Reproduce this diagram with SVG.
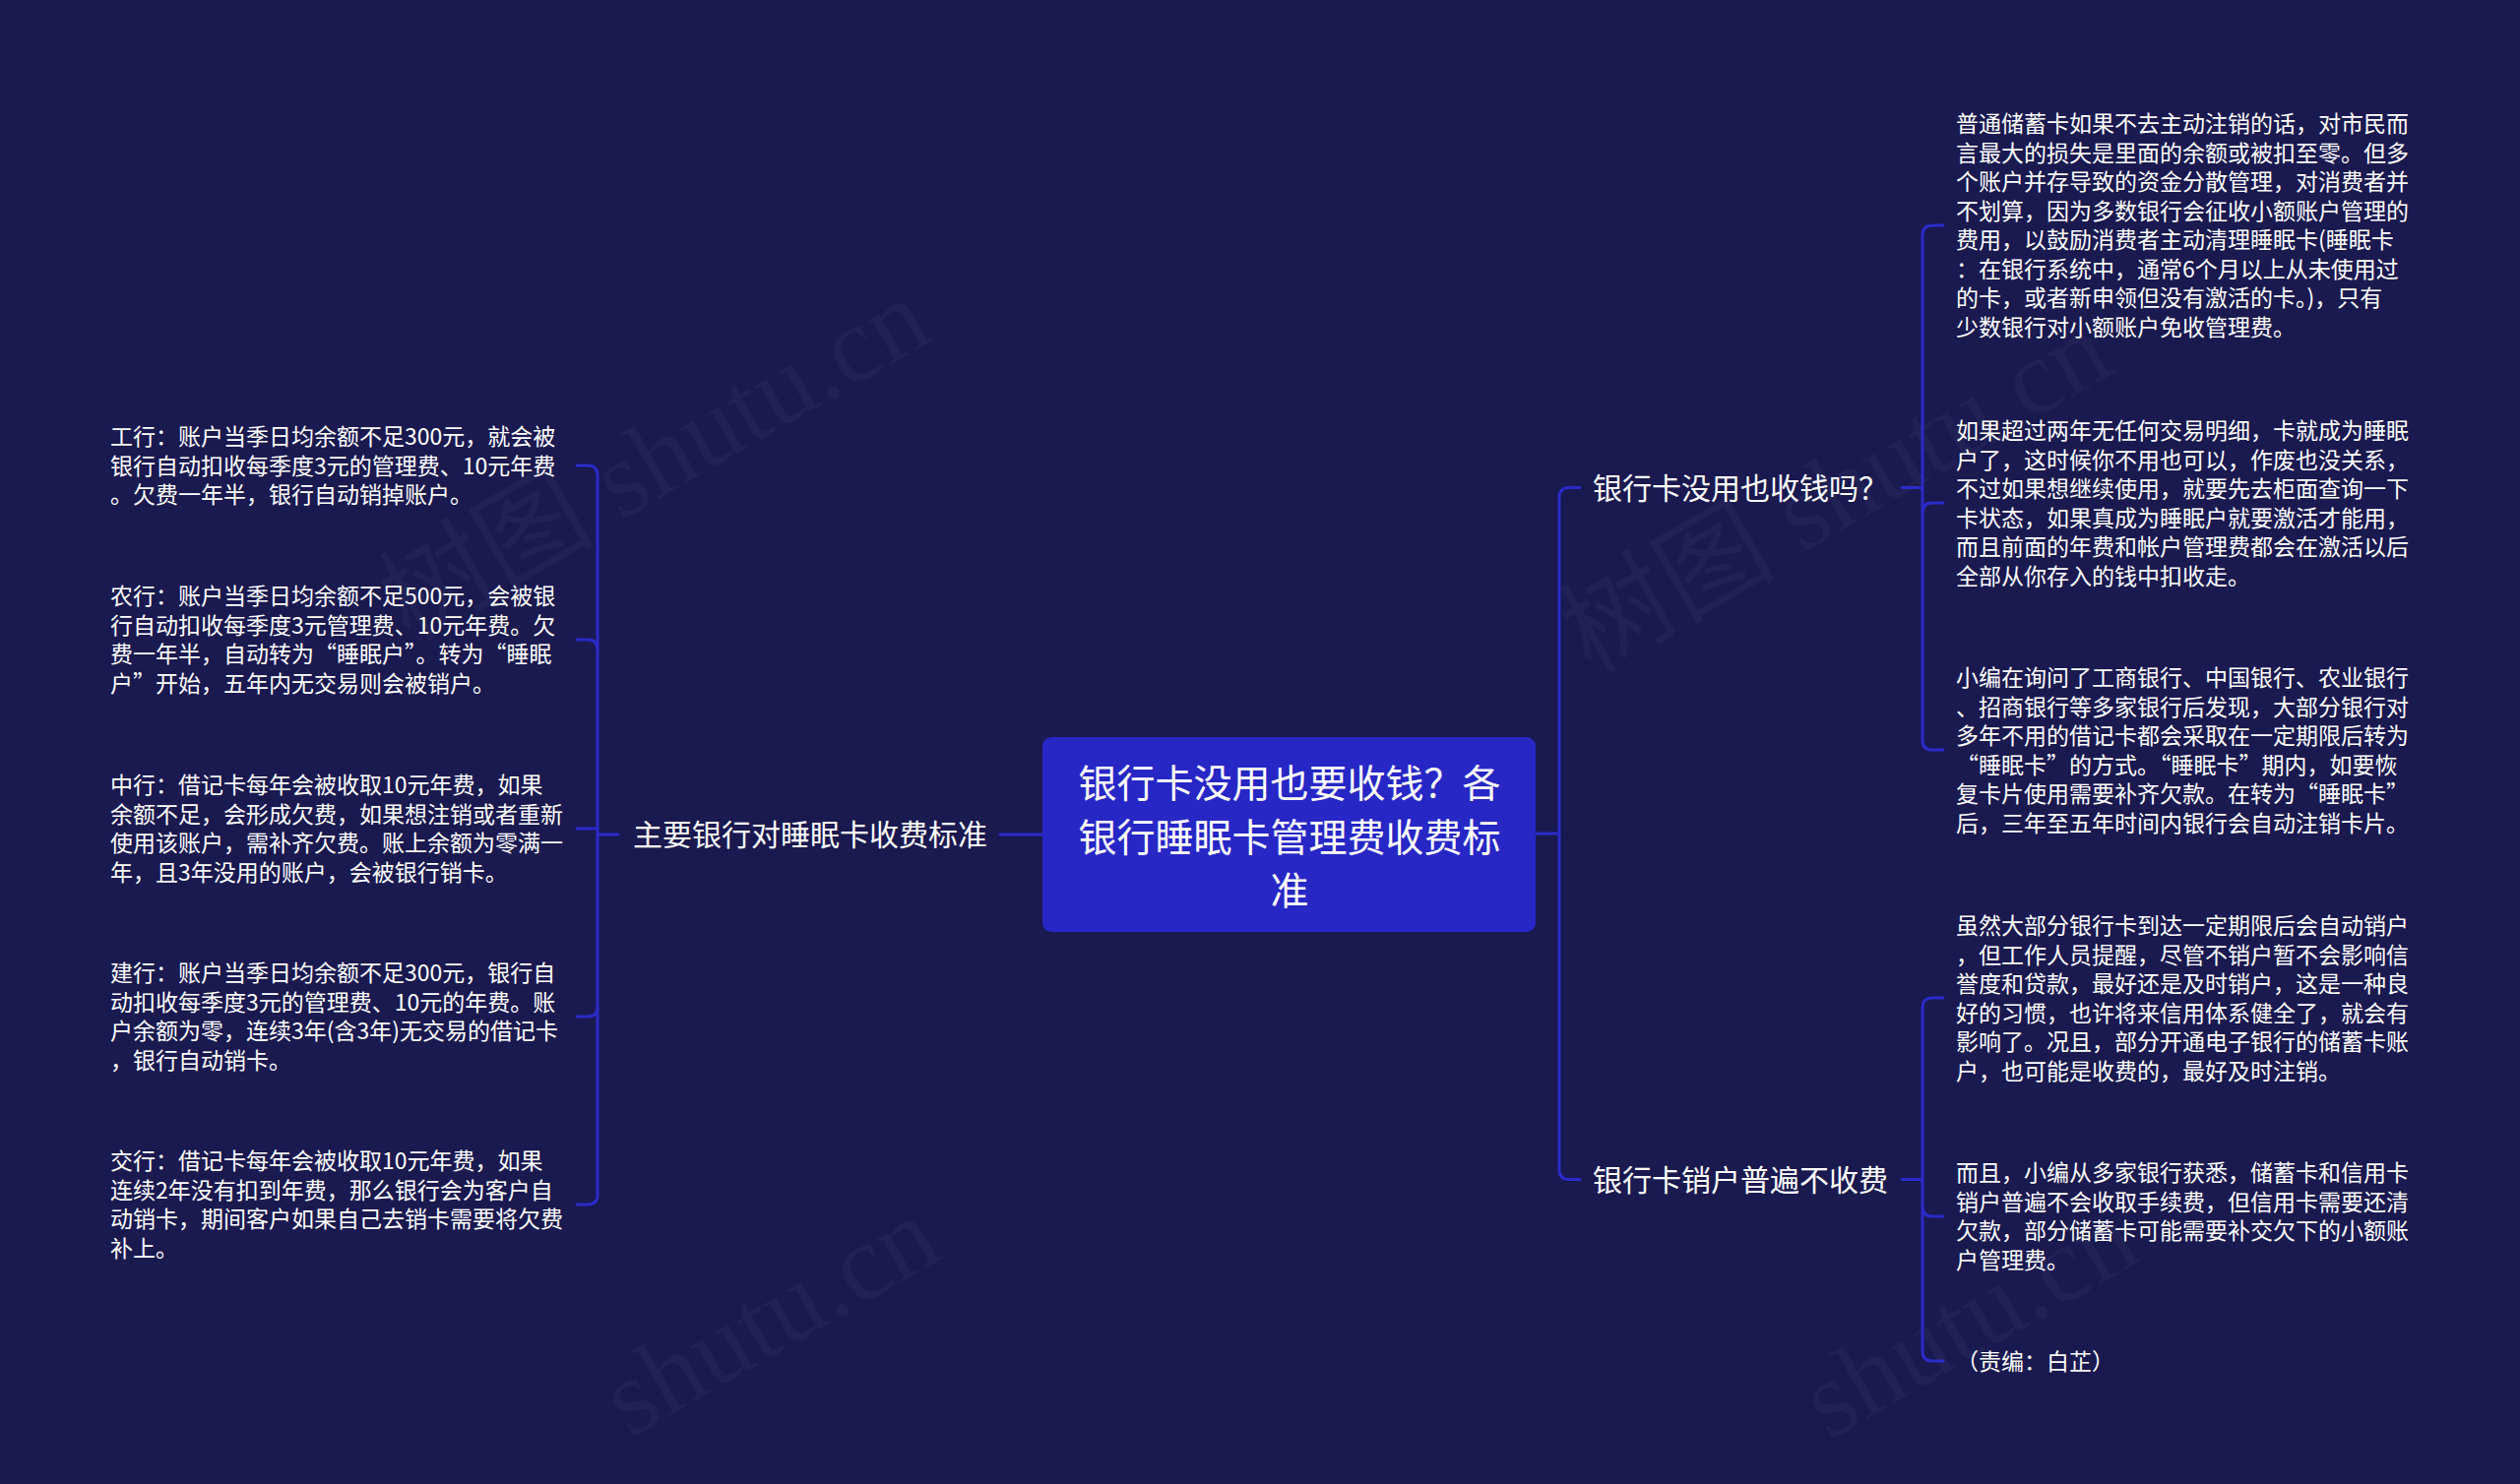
<svg xmlns="http://www.w3.org/2000/svg" width="2560" height="1508" viewBox="0 0 2560 1508">
<style>
.bg{fill:#1a1950}
.wm{font-family:"Liberation Serif","Noto Sans CJK SC",serif;font-size:110px;fill:#ffffff;fill-opacity:0.035}
.root{fill:#2727c6}
.rt{font-family:"Noto Sans CJK SC","Noto Sans",sans-serif;font-size:39px;fill:#ffffff;text-anchor:middle}
.br{font-family:"Noto Sans CJK SC","Noto Sans",sans-serif;font-size:30px;fill:#ffffff}
.lf{font-family:"Noto Sans CJK SC","Noto Sans",sans-serif;font-size:23px;fill:#ffffff}
.ln{fill:none;stroke:#2b2bc8;stroke-width:3;stroke-linecap:round;stroke-linejoin:round}
</style>
<rect class="bg" x="0" y="0" width="2560" height="1508"/>
<g id="watermark">
<text class="wm" x="416" y="653" transform="rotate(-30 416 653)">树图 shutu.cn</text>
<text class="wm" x="1616" y="686" transform="rotate(-30 1616 686)">树图 shutu.cn</text>
<text class="wm" x="640" y="1462" transform="rotate(-30 640 1462)">shutu.cn</text>
<text class="wm" x="1858" y="1464" transform="rotate(-30 1858 1464)">shutu.cn</text>
</g>
<g id="connectors">
<path class="ln" d="M1016,848 H1059"/>
<path class="ln" d="M607,848 H628"/>
<path class="ln" d="M586,473 H597 Q607,473 607,483 V1214 Q607,1224 597,1224 H586"/>
<path class="ln" d="M586,650 H597 Q607,650 607,660"/>
<path class="ln" d="M586,842 H607"/>
<path class="ln" d="M586,1033 H597 Q607,1033 607,1023"/>
<path class="ln" d="M1560,847 H1584"/>
<path class="ln" d="M1605,495.5 H1594 Q1584,495.5 1584,505.5 V1188.5 Q1584,1198.5 1594,1198.5 H1605"/>
<path class="ln" d="M1932,495.5 H1953"/>
<path class="ln" d="M1974,229 H1963 Q1953,229 1953,239 V752 Q1953,762 1963,762 H1974"/>
<path class="ln" d="M1974,511 H1963 Q1953,511 1953,521"/>
<path class="ln" d="M1932,1198.5 H1953"/>
<path class="ln" d="M1974,1014 H1963 Q1953,1014 1953,1024 V1373 Q1953,1383 1963,1383 H1974"/>
<path class="ln" d="M1974,1236 H1963 Q1953,1236 1953,1226"/>
</g>
<g id="root">
<rect class="root" x="1059" y="749" width="501" height="198" rx="9"/>
<text class="rt"><tspan x="1310" y="810">银行卡没用也要收钱？各</tspan><tspan x="1310" y="865">银行睡眠卡管理费收费标</tspan><tspan x="1310" y="919">准</tspan></text>
</g>
<g id="branch-left">
<text class="br" x="643" y="859">主要银行对睡眠卡收费标准</text>
</g>
<g id="branch-right-1">
<text class="br" x="1618" y="507">银行卡没用也收钱吗？</text>
</g>
<g id="branch-right-2">
<text class="br" x="1618" y="1210">银行卡销户普遍不收费</text>
</g>
<g id="leaf-icbc">
<text class="lf"><tspan x="112" y="452">工行：账户当季日均余额不足300元，就会被</tspan><tspan x="112" dy="29.5">银行自动扣收每季度3元的管理费、10元年费</tspan><tspan x="112" dy="29.5">。欠费一年半，银行自动销掉账户。</tspan></text>
</g>
<g id="leaf-abc">
<text class="lf"><tspan x="112" y="614">农行：账户当季日均余额不足500元，会被银</tspan><tspan x="112" dy="29.5">行自动扣收每季度3元管理费、10元年费。欠</tspan><tspan x="112" dy="29.5">费一年半，自动转为“睡眠户”。转为“睡眠</tspan><tspan x="112" dy="29.5">户”开始，五年内无交易则会被销户。</tspan></text>
</g>
<g id="leaf-boc">
<text class="lf"><tspan x="112" y="806">中行：借记卡每年会被收取10元年费，如果</tspan><tspan x="112" dy="29.5">余额不足，会形成欠费，如果想注销或者重新</tspan><tspan x="112" dy="29.5">使用该账户，需补齐欠费。账上余额为零满一</tspan><tspan x="112" dy="29.5">年，且3年没用的账户，会被银行销卡。</tspan></text>
</g>
<g id="leaf-ccb">
<text class="lf"><tspan x="112" y="997">建行：账户当季日均余额不足300元，银行自</tspan><tspan x="112" dy="29.5">动扣收每季度3元的管理费、10元的年费。账</tspan><tspan x="112" dy="29.5">户余额为零，连续3年(含3年)无交易的借记卡</tspan><tspan x="112" dy="29.5">，银行自动销卡。</tspan></text>
</g>
<g id="leaf-bocom">
<text class="lf"><tspan x="112" y="1188">交行：借记卡每年会被收取10元年费，如果</tspan><tspan x="112" dy="29.5">连续2年没有扣到年费，那么银行会为客户自</tspan><tspan x="112" dy="29.5">动销卡，期间客户如果自己去销卡需要将欠费</tspan><tspan x="112" dy="29.5">补上。</tspan></text>
</g>
<g id="leaf-r1">
<text class="lf"><tspan x="1987" y="134">普通储蓄卡如果不去主动注销的话，对市民而</tspan><tspan x="1987" dy="29.5">言最大的损失是里面的余额或被扣至零。但多</tspan><tspan x="1987" dy="29.5">个账户并存导致的资金分散管理，对消费者并</tspan><tspan x="1987" dy="29.5">不划算，因为多数银行会征收小额账户管理的</tspan><tspan x="1987" dy="29.5">费用，以鼓励消费者主动清理睡眠卡(睡眠卡</tspan><tspan x="1987" dy="29.5">：在银行系统中，通常6个月以上从未使用过</tspan><tspan x="1987" dy="29.5">的卡，或者新申领但没有激活的卡。)，只有</tspan><tspan x="1987" dy="29.5">少数银行对小额账户免收管理费。</tspan></text>
</g>
<g id="leaf-r2">
<text class="lf"><tspan x="1987" y="446">如果超过两年无任何交易明细，卡就成为睡眠</tspan><tspan x="1987" dy="29.5">户了，这时候你不用也可以，作废也没关系，</tspan><tspan x="1987" dy="29.5">不过如果想继续使用，就要先去柜面查询一下</tspan><tspan x="1987" dy="29.5">卡状态，如果真成为睡眠户就要激活才能用，</tspan><tspan x="1987" dy="29.5">而且前面的年费和帐户管理费都会在激活以后</tspan><tspan x="1987" dy="29.5">全部从你存入的钱中扣收走。</tspan></text>
</g>
<g id="leaf-r3">
<text class="lf"><tspan x="1987" y="697">小编在询问了工商银行、中国银行、农业银行</tspan><tspan x="1987" dy="29.5">、招商银行等多家银行后发现，大部分银行对</tspan><tspan x="1987" dy="29.5">多年不用的借记卡都会采取在一定期限后转为</tspan><tspan x="1987" dy="29.5">“睡眠卡”的方式。“睡眠卡”期内，如要恢</tspan><tspan x="1987" dy="29.5">复卡片使用需要补齐欠款。在转为“睡眠卡”</tspan><tspan x="1987" dy="29.5">后，三年至五年时间内银行会自动注销卡片。</tspan></text>
</g>
<g id="leaf-r4">
<text class="lf"><tspan x="1987" y="949">虽然大部分银行卡到达一定期限后会自动销户</tspan><tspan x="1987" dy="29.5">，但工作人员提醒，尽管不销户暂不会影响信</tspan><tspan x="1987" dy="29.5">誉度和贷款，最好还是及时销户，这是一种良</tspan><tspan x="1987" dy="29.5">好的习惯，也许将来信用体系健全了，就会有</tspan><tspan x="1987" dy="29.5">影响了。况且，部分开通电子银行的储蓄卡账</tspan><tspan x="1987" dy="29.5">户，也可能是收费的，最好及时注销。</tspan></text>
</g>
<g id="leaf-r5">
<text class="lf"><tspan x="1987" y="1200">而且，小编从多家银行获悉，储蓄卡和信用卡</tspan><tspan x="1987" dy="29.5">销户普遍不会收取手续费，但信用卡需要还清</tspan><tspan x="1987" dy="29.5">欠款，部分储蓄卡可能需要补交欠下的小额账</tspan><tspan x="1987" dy="29.5">户管理费。</tspan></text>
</g>
<g id="leaf-r6">
<text class="lf" x="1987" y="1391.5">（责编：白芷）</text>
</g>
</svg>
